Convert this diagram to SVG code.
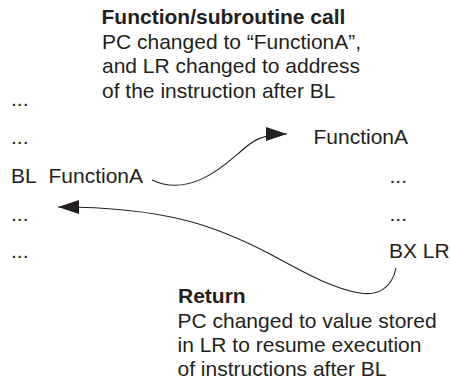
<svg xmlns="http://www.w3.org/2000/svg" width="450" height="384" viewBox="0 0 450 384">
<style>
text{font-family:"Liberation Sans",Arial,sans-serif;font-size:21px;fill:#231f20}
.b{font-weight:bold}
.c{fill:none;stroke:#231f20;stroke-width:1.1}
</style>
<defs>
<marker id="ah" markerUnits="userSpaceOnUse" viewBox="0 0 21 14" refX="21" refY="7" markerWidth="21" markerHeight="14" orient="auto">
<path d="M0,0 L21,7 L0,14 z" fill="#231f20"/>
</marker>
</defs>
<g id="call-note">
<text class="b" x="101.5" y="23.5">Function/subroutine call</text>
<text x="102" y="48.5">PC changed to “FunctionA”,</text>
<text x="102" y="73.2">and LR changed to address</text>
<text x="102" y="97.7">of the instruction after BL</text>
</g>
<g id="caller">
<text x="11" y="106">...</text>
<text x="11" y="143.5">...</text>
<text x="11" y="182.8">BL<tspan x="48.5">FunctionA</tspan></text>
<text x="11" y="220.5">...</text>
<text x="11" y="257.5">...</text>
</g>
<g id="functionA">
<text x="313.5" y="144">FunctionA</text>
<text x="389.5" y="182.5">...</text>
<text x="389.5" y="220.5">...</text>
<text x="389" y="257.5">BX LR</text>
</g>
<g id="return-note">
<text class="b" x="178" y="303.3">Return</text>
<text x="177.5" y="327.5">PC changed to value stored</text>
<text x="177.5" y="351.8">in LR to resume execution</text>
<text x="177.5" y="376">of instructions after BL</text>
</g>
<g id="connectors">
<path class="c" marker-end="url(#ah)" d="M152,180 C 190,198 225,165 240,152 C 252,141 262,134 287,134"/>
<path class="c" marker-end="url(#ah)" d="M396,268 C 392,288 378,296 360,293 C 330,288 300,270 270,254 C 220,228 170,207 58,207"/>
</g>
</svg>
